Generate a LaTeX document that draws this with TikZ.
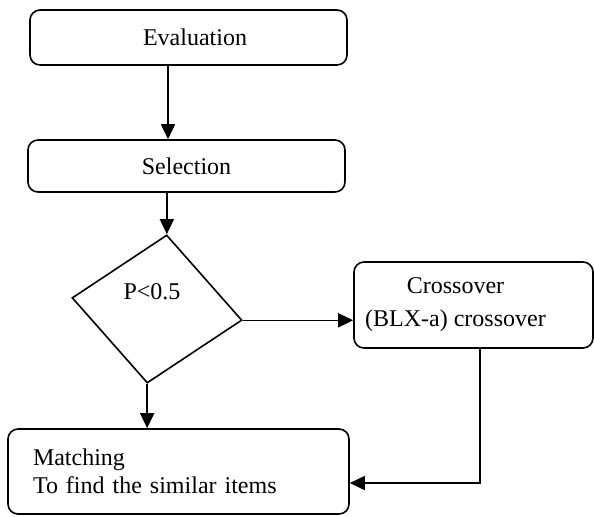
\documentclass[tikz,border=0pt]{standalone}
\usepackage{fontspec}
\setmainfont{Liberation Serif}
\usetikzlibrary{arrows.meta,shapes.geometric}
\tikzset{%
  >={Triangle[width=7pt,length=7.5pt]},
  % Specifications for style of nodes:
         stepbase/.style = {rectangle, rounded corners=5pt, draw=black,
                            line width=0.8pt, inner sep=0pt,
                            font=\fontsize{12}{14}\selectfont},
     stepcentered/.style = {stepbase, align=center},
      decisionbox/.style = {diamond, draw=black, line width=0.8pt,
                            inner sep=0pt, minimum width=85.7pt,
                            minimum height=74.7pt, aspect=1.147,
                            rotate=-7.5},
}

\begin{document}
\begin{tikzpicture}[x=0.5pt, y=-0.5pt, line width=0.8pt]
  \useasboundingbox (0,0) rectangle (594,516);

  % Specification of nodes (position, etc.)
  \node (eval)   [stepcentered, minimum width=158.5pt, minimum height=27.5pt]
                 at (188.5,37.5) {\hspace*{6.5pt}Evaluation};
  \node (select) [stepcentered, minimum width=158.5pt, minimum height=26pt]
                 at (186.5,166) {Selection};
  \node (decide) [decisionbox,
                  label={[font=\fontsize{12}{14}\selectfont,
                          shift={(-2.5pt,8.5pt)}]center:P<0.5}]
                 at (157,309) {};
  \node (cross)  [stepcentered, minimum width=119.5pt, minimum height=43pt]
                 at (473.5,305)
                 {Crossover\hspace*{18pt}\\[2.5pt](BLX-a) crossover\hspace*{18pt}};
  \node (match)  [stepbase, align=left, text width=145.5pt, inner xsep=12.5pt,
                  minimum height=42.5pt]
                 at (178.5,471.5) {Matching\\To find the similar items};

  % Specification of lines between nodes specified above
  \draw[->] ([xshift=-10.25pt]eval.south) -- ([xshift=-10.25pt]eval.south |- select.north);
  \draw[->] (select.south -| decide.north) -- (decide.north);
  \draw[->] (decide.east) -- (decide.east -| cross.west);
  \draw[->] (decide.south) -- (decide.south |- match.north);
  \draw[->] ([xshift=3.25pt]cross.south) |- ([yshift=-5.75pt]match.east);

\end{tikzpicture}
\end{document}
